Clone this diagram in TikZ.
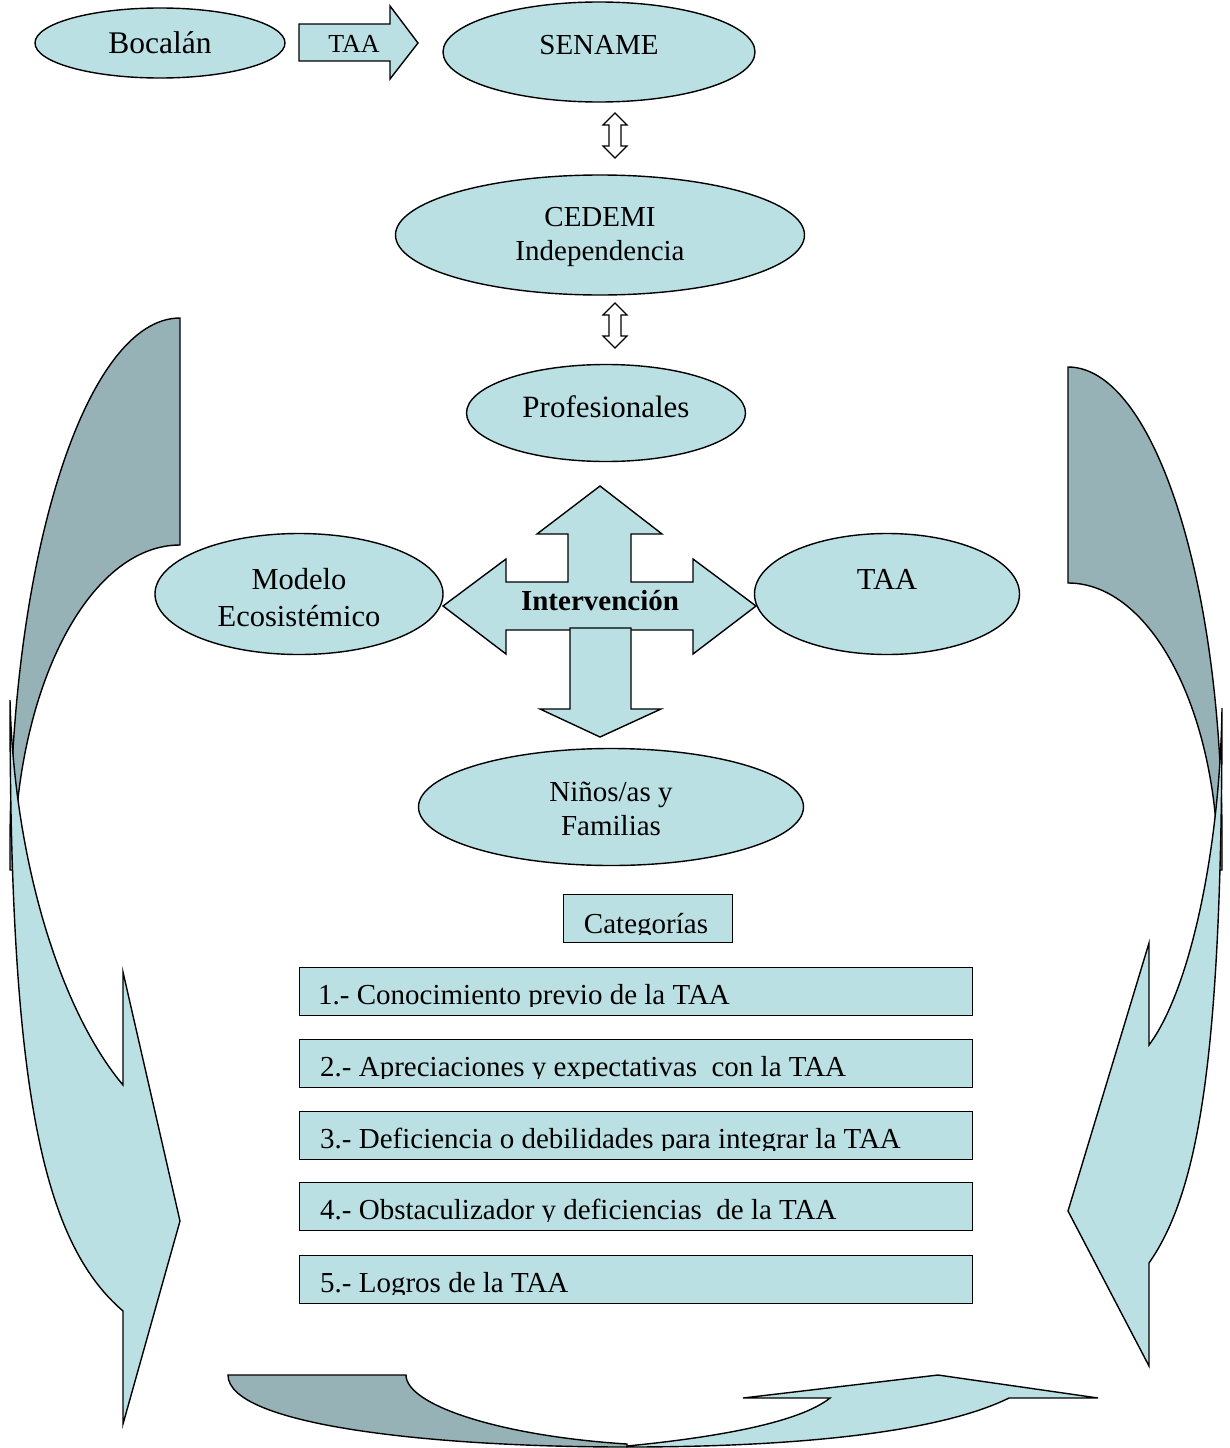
\documentclass[tikz,border=0pt]{standalone}
\usepackage{fontspec}
\setmainfont{Liberation Serif}
\usetikzlibrary{shapes.geometric}
\definecolor{lightc}{RGB}{187,224,227}
\definecolor{darkc}{RGB}{150,178,182}
\begin{document}
\begin{tikzpicture}[x=1pt,y=-1pt,
  ell/.style={ellipse,draw=black,line width=1.4pt,fill=lightc,inner sep=0pt},
  shp/.style={draw=black,line width=1.4pt,fill=lightc,line join=miter},
  dshp/.style={draw=black,line width=1.4pt,fill=darkc},
  wshp/.style={draw=black,line width=1.2pt,fill=white},
  lbl/.style={anchor=base,inner sep=0pt,font=\fontsize{29}{33}\selectfont},
  lblw/.style={anchor=base west,inner sep=0pt,font=\fontsize{29}{33}\selectfont},
  catbox/.style={draw=black,line width=1.4pt,fill=lightc,anchor=north west,inner sep=0pt}
]
\useasboundingbox (0,0) rectangle (1229,1448);

% ---- big curved arrows (background) ----
% left
\path[dshp] (180,318) -- (180,545) .. controls (88,545) and (14,690) .. (14,870)
  -- (10,870) -- (10,850) .. controls (10,556) and (86,318) .. (180,318) -- cycle;
\path[shp] (10,700) .. controls (14,860) and (60,1010) .. (123,1085) -- (123,972)
  -- (180,1221) -- (123,1424) -- (123,1311) .. controls (40,1240) and (10,1080) .. (10,700) -- cycle;
% right
\path[dshp] (1068,367) -- (1068,583) .. controls (1151,583) and (1218,711) .. (1218,870)
  -- (1222,870) -- (1222,840) .. controls (1222,579) and (1153,367) .. (1068,367) -- cycle;
\path[shp] (1222,708) .. controls (1220,850) and (1190,990) .. (1149,1045) -- (1149,943)
  -- (1068,1211) -- (1149,1366) -- (1149,1263) .. controls (1200,1190) and (1222,1050) .. (1222,708) -- cycle;
% bottom
\path[dshp] (228,1375) -- (406,1375) .. controls (406,1405) and (500,1436) .. (627,1444)
  -- (627,1447) .. controls (430,1447) and (228,1425) .. (228,1375) -- cycle;
\path[shp] (627,1446) .. controls (720,1437) and (800,1422) .. (830,1398) -- (743,1398)
  -- (938,1375) -- (1098,1398) -- (1009,1398) .. controls (940,1432) and (800,1447) .. (627,1447) -- cycle;

% ---- top row ----
\node[ell,minimum width=250pt,minimum height=70pt] (boc) at (160,43) {};
\node[lbl,font=\fontsize{31.5}{35}\selectfont] (boct) at (160,53) {Bocalán};
\path[shp] (299,24) -- (390,24) -- (390,6) -- (418,43) -- (390,79) -- (390,61) -- (299,61) -- cycle;
\node[lbl,font=\fontsize{26}{30}\selectfont] (arrt) at (354,52) {TAA};
\node[ell,minimum width=312pt,minimum height=100pt] (sen) at (599,52) {};
\node[lbl] (sent) at (599,54) {SENAME};

% double arrows
\path[wshp] (615,113) -- (627,125) -- (621,125) -- (621,146) -- (627,146) -- (615,158)
  -- (603,146) -- (609,146) -- (609,125) -- (603,125) -- cycle;
\path[wshp] (615,303) -- (627,315) -- (621,315) -- (621,336) -- (627,336) -- (615,348)
  -- (603,336) -- (609,336) -- (609,315) -- (603,315) -- cycle;

\node[ell,minimum width=409pt,minimum height=120pt] (ced) at (600,235) {};
\node[lbl] (cedt1) at (600,226) {CEDEMI};
\node[lbl] (cedt2) at (600,260) {Independencia};

\node[ell,minimum width=279pt,minimum height=97pt] (pro) at (606,413) {};
\node[lbl,font=\fontsize{31}{35}\selectfont] (prot) at (606,417) {Profesionales};

% ---- intervention cross ----
\path[shp] (443,606) -- (506,559) -- (506,582) -- (568,582) -- (568,534) -- (537,534)
  -- (600,486) -- (662,534) -- (631,534) -- (631,582) -- (693,582) -- (693,559)
  -- (756,606) -- (693,654) -- (693,630) -- (506,630) -- (506,654) -- cycle;
\path[shp] (570,628) -- (631,628) -- (631,709) -- (661,709) -- (600,737) -- (540,709)
  -- (570,709) -- cycle;
\node[lbl,font=\fontsize{29}{33}\selectfont\bfseries] (intt) at (600,610) {Intervención};

\node[ell,minimum width=288pt,minimum height=121pt] (mod) at (299,594) {};
\node[lbl,font=\fontsize{30.5}{34}\selectfont] (modt1) at (299,589) {Modelo};
\node[lbl,font=\fontsize{30.5}{34}\selectfont] (modt2) at (299,626) {Ecosistémico};

\node[ell,minimum width=265pt,minimum height=121pt] (taa) at (887,594) {};
\node[lbl,font=\fontsize{30.5}{34}\selectfont] (taat) at (887,589) {TAA};

\node[ell,minimum width=385pt,minimum height=117pt] (nin) at (611,807) {};
\node[lbl] (nint1) at (611,801) {Niños/as y};
\node[lbl] (nint2) at (611,835) {Familias};

% ---- categories ----
\node[catbox,minimum width=169pt,minimum height=48pt] (cat) at (563,894) {};
\begin{scope}
  \clip (563,894) rectangle (732,934.5);
  \node[lbl] (catt) at (646,933) {Categorías};
\end{scope}

\node[catbox,minimum width=673pt,minimum height=48pt] (c1) at (299,967) {};
\node[catbox,minimum width=673pt,minimum height=48pt] (c2) at (299,1039) {};
\node[catbox,minimum width=673pt,minimum height=48pt] (c3) at (299,1111) {};
\node[catbox,minimum width=673pt,minimum height=48pt] (c4) at (299,1182) {};
\node[catbox,minimum width=673pt,minimum height=48pt] (c5) at (299,1255) {};
\begin{scope}
  \clip (299,967) rectangle (972,1006);
  \node[lblw] (c1t) at (318,1004) {1.- Conocimiento previo de la TAA};
\end{scope}
\begin{scope}
  \clip (299,1039) rectangle (972,1078);
  \node[lblw] (c2t) at (320,1076) {2.- Apreciaciones y expectativas\ \ con la TAA};
\end{scope}
\begin{scope}
  \clip (299,1111) rectangle (972,1150);
  \node[lblw] (c3t) at (320,1148) {3.- Deficiencia o debilidades para integrar la TAA};
\end{scope}
\begin{scope}
  \clip (299,1182) rectangle (972,1221);
  \node[lblw] (c4t) at (320,1219) {4.- Obstaculizador y deficiencias\ \ de la TAA};
\end{scope}
\begin{scope}
  \clip (299,1255) rectangle (972,1294);
  \node[lblw] (c5t) at (320,1292) {5.- Logros de la TAA};
\end{scope}
\end{tikzpicture}
\end{document}
